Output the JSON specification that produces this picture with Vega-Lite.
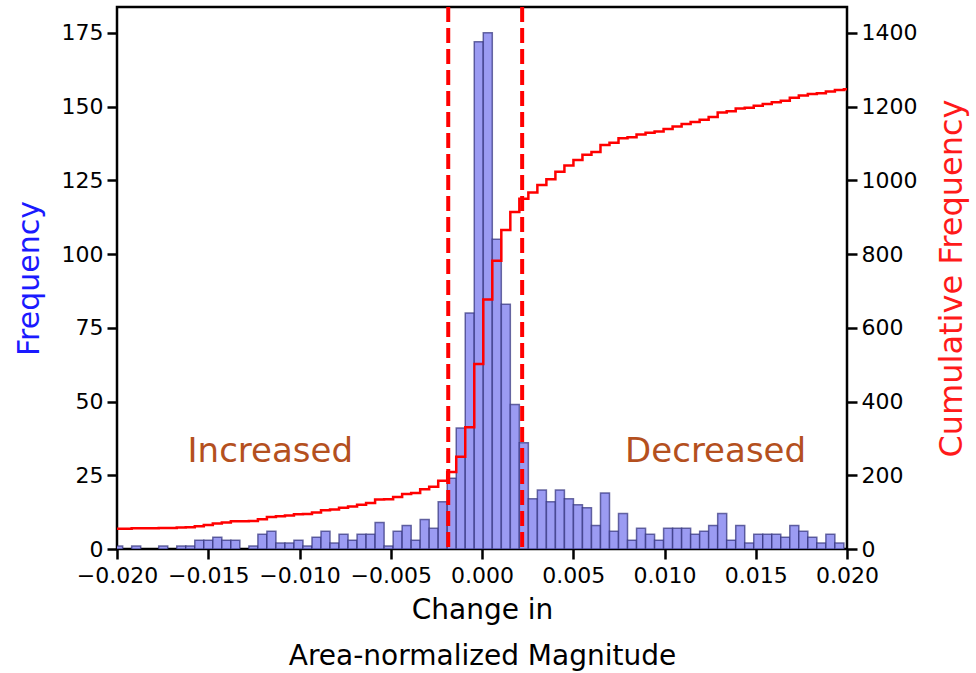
{
  "$schema": "https://vega.github.io/schema/vega-lite/v6.json",
  "width": 730,
  "height": 542,
  "autosize": {"type": "none"},
  "padding": {"left": 117, "top": 7, "right": 129, "bottom": 124},
  "background": "white",
  "config": {
    "view": {"stroke": "black", "strokeWidth": 2.5},
    "axis": {
      "grid": false,
      "domain": false,
      "tickColor": "black",
      "tickWidth": 2.5,
      "tickSize": 10,
      "labelFont": "DejaVu Sans",
      "labelFontSize": 22,
      "labelColor": "black",
      "labelOverlap": false,
      "labelFlush": false,
      "titleFontWeight": "normal"
    }
  },
  "datasets": {
    "hist": [
      {"x": -0.020184, "x2": -0.01969, "count": 1},
      {"x": -0.019196, "x2": -0.018702, "count": 1},
      {"x": -0.017714, "x2": -0.01722, "count": 1},
      {"x": -0.016726, "x2": -0.016232, "count": 1},
      {"x": -0.016232, "x2": -0.015738, "count": 1},
      {"x": -0.015738, "x2": -0.015244, "count": 3},
      {"x": -0.015244, "x2": -0.01475, "count": 3},
      {"x": -0.01475, "x2": -0.014256, "count": 4},
      {"x": -0.014256, "x2": -0.013762, "count": 3},
      {"x": -0.013762, "x2": -0.013268, "count": 3},
      {"x": -0.012774, "x2": -0.01228, "count": 1},
      {"x": -0.01228, "x2": -0.011786, "count": 5},
      {"x": -0.011786, "x2": -0.011292, "count": 6},
      {"x": -0.011292, "x2": -0.010798, "count": 2},
      {"x": -0.010798, "x2": -0.010304, "count": 2},
      {"x": -0.010304, "x2": -0.00981, "count": 3},
      {"x": -0.00981, "x2": -0.009316, "count": 1},
      {"x": -0.009316, "x2": -0.008822, "count": 4},
      {"x": -0.008822, "x2": -0.008328, "count": 6},
      {"x": -0.008328, "x2": -0.007834, "count": 2},
      {"x": -0.007834, "x2": -0.00734, "count": 5},
      {"x": -0.00734, "x2": -0.006846, "count": 3},
      {"x": -0.006846, "x2": -0.006352, "count": 5},
      {"x": -0.006352, "x2": -0.005858, "count": 5},
      {"x": -0.005858, "x2": -0.005364, "count": 9},
      {"x": -0.005364, "x2": -0.00487, "count": 1},
      {"x": -0.00487, "x2": -0.004376, "count": 6},
      {"x": -0.004376, "x2": -0.003882, "count": 8},
      {"x": -0.003882, "x2": -0.003388, "count": 3},
      {"x": -0.003388, "x2": -0.002894, "count": 10},
      {"x": -0.002894, "x2": -0.0024, "count": 7},
      {"x": -0.0024, "x2": -0.001906, "count": 16},
      {"x": -0.001906, "x2": -0.001412, "count": 24},
      {"x": -0.001412, "x2": -0.000918, "count": 41},
      {"x": -0.000918, "x2": -0.000424, "count": 80},
      {"x": -0.000424, "x2": 0.00007, "count": 172},
      {"x": 0.00007, "x2": 0.000564, "count": 175},
      {"x": 0.000564, "x2": 0.001058, "count": 105},
      {"x": 0.001058, "x2": 0.001552, "count": 83},
      {"x": 0.001552, "x2": 0.002046, "count": 49},
      {"x": 0.002046, "x2": 0.00254, "count": 36},
      {"x": 0.00254, "x2": 0.003034, "count": 17},
      {"x": 0.003034, "x2": 0.003528, "count": 20},
      {"x": 0.003528, "x2": 0.004022, "count": 16},
      {"x": 0.004022, "x2": 0.004516, "count": 20},
      {"x": 0.004516, "x2": 0.00501, "count": 17},
      {"x": 0.00501, "x2": 0.005504, "count": 15},
      {"x": 0.005504, "x2": 0.005998, "count": 14},
      {"x": 0.005998, "x2": 0.006492, "count": 8},
      {"x": 0.006492, "x2": 0.006986, "count": 19},
      {"x": 0.006986, "x2": 0.00748, "count": 6},
      {"x": 0.00748, "x2": 0.007974, "count": 12},
      {"x": 0.007974, "x2": 0.008468, "count": 3},
      {"x": 0.008468, "x2": 0.008962, "count": 7},
      {"x": 0.008962, "x2": 0.009456, "count": 5},
      {"x": 0.009456, "x2": 0.00995, "count": 3},
      {"x": 0.00995, "x2": 0.010444, "count": 7},
      {"x": 0.010444, "x2": 0.010938, "count": 7},
      {"x": 0.010938, "x2": 0.011432, "count": 7},
      {"x": 0.011432, "x2": 0.011926, "count": 5},
      {"x": 0.011926, "x2": 0.01242, "count": 6},
      {"x": 0.01242, "x2": 0.012914, "count": 8},
      {"x": 0.012914, "x2": 0.013408, "count": 12},
      {"x": 0.013408, "x2": 0.013902, "count": 3},
      {"x": 0.013902, "x2": 0.014396, "count": 8},
      {"x": 0.014396, "x2": 0.01489, "count": 2},
      {"x": 0.01489, "x2": 0.015384, "count": 5},
      {"x": 0.015384, "x2": 0.015878, "count": 5},
      {"x": 0.015878, "x2": 0.016372, "count": 5},
      {"x": 0.016372, "x2": 0.016866, "count": 4},
      {"x": 0.016866, "x2": 0.01736, "count": 8},
      {"x": 0.01736, "x2": 0.017854, "count": 6},
      {"x": 0.017854, "x2": 0.018348, "count": 4},
      {"x": 0.018348, "x2": 0.018842, "count": 2},
      {"x": 0.018842, "x2": 0.019336, "count": 5},
      {"x": 0.019336, "x2": 0.01983, "count": 2}
    ],
    "cum": [
      {"x": -0.020184, "cum": 55},
      {"x": -0.01969, "cum": 55},
      {"x": -0.019196, "cum": 56},
      {"x": -0.018702, "cum": 56},
      {"x": -0.018208, "cum": 56},
      {"x": -0.017714, "cum": 57},
      {"x": -0.01722, "cum": 57},
      {"x": -0.016726, "cum": 58},
      {"x": -0.016232, "cum": 59},
      {"x": -0.015738, "cum": 62},
      {"x": -0.015244, "cum": 65},
      {"x": -0.01475, "cum": 69},
      {"x": -0.014256, "cum": 72},
      {"x": -0.013762, "cum": 75},
      {"x": -0.013268, "cum": 75},
      {"x": -0.012774, "cum": 76},
      {"x": -0.01228, "cum": 81},
      {"x": -0.011786, "cum": 87},
      {"x": -0.011292, "cum": 89},
      {"x": -0.010798, "cum": 91},
      {"x": -0.010304, "cum": 94},
      {"x": -0.00981, "cum": 95},
      {"x": -0.009316, "cum": 99},
      {"x": -0.008822, "cum": 105},
      {"x": -0.008328, "cum": 107},
      {"x": -0.007834, "cum": 112},
      {"x": -0.00734, "cum": 115},
      {"x": -0.006846, "cum": 120},
      {"x": -0.006352, "cum": 125},
      {"x": -0.005858, "cum": 134},
      {"x": -0.005364, "cum": 135},
      {"x": -0.00487, "cum": 141},
      {"x": -0.004376, "cum": 149},
      {"x": -0.003882, "cum": 152},
      {"x": -0.003388, "cum": 162},
      {"x": -0.002894, "cum": 169},
      {"x": -0.0024, "cum": 185},
      {"x": -0.001906, "cum": 209},
      {"x": -0.001412, "cum": 250},
      {"x": -0.000918, "cum": 330},
      {"x": -0.000424, "cum": 502},
      {"x": 0.00007, "cum": 677},
      {"x": 0.000564, "cum": 782},
      {"x": 0.001058, "cum": 865},
      {"x": 0.001552, "cum": 914},
      {"x": 0.002046, "cum": 950},
      {"x": 0.00254, "cum": 967},
      {"x": 0.003034, "cum": 987},
      {"x": 0.003528, "cum": 1003},
      {"x": 0.004022, "cum": 1023},
      {"x": 0.004516, "cum": 1040},
      {"x": 0.00501, "cum": 1055},
      {"x": 0.005504, "cum": 1069},
      {"x": 0.005998, "cum": 1077},
      {"x": 0.006492, "cum": 1096},
      {"x": 0.006986, "cum": 1102},
      {"x": 0.00748, "cum": 1114},
      {"x": 0.007974, "cum": 1117},
      {"x": 0.008468, "cum": 1124},
      {"x": 0.008962, "cum": 1129},
      {"x": 0.009456, "cum": 1132},
      {"x": 0.00995, "cum": 1139},
      {"x": 0.010444, "cum": 1146},
      {"x": 0.010938, "cum": 1153},
      {"x": 0.011432, "cum": 1158},
      {"x": 0.011926, "cum": 1164},
      {"x": 0.01242, "cum": 1172},
      {"x": 0.012914, "cum": 1184},
      {"x": 0.013408, "cum": 1187},
      {"x": 0.013902, "cum": 1195},
      {"x": 0.014396, "cum": 1197},
      {"x": 0.01489, "cum": 1202},
      {"x": 0.015384, "cum": 1207},
      {"x": 0.015878, "cum": 1212},
      {"x": 0.016372, "cum": 1216},
      {"x": 0.016866, "cum": 1224},
      {"x": 0.01736, "cum": 1230},
      {"x": 0.017854, "cum": 1234},
      {"x": 0.018348, "cum": 1236},
      {"x": 0.018842, "cum": 1241},
      {"x": 0.019336, "cum": 1245},
      {"x": 0.01983, "cum": 1247},
      {"x": 0.020324, "cum": 1247}
    ],
    "cuts": [{"x": -0.00185}, {"x": 0.0022}],
    "labels": [
      {"x": -0.0116, "count": 33, "label": "Increased"},
      {"x": 0.0128, "count": 33, "label": "Decreased"}
    ]
  },
  "layer": [
    {
      "layer": [
        {
          "data": {"name": "hist"},
          "mark": {"type": "bar", "clip": true, "fill": "#9b9bf2", "stroke": "#30307a", "strokeOpacity": 0.7, "strokeWidth": 1.5},
          "encoding": {
            "x": {
              "field": "x", "type": "quantitative",
              "scale": {"domain": [-0.02, 0.02], "nice": false, "zero": false},
              "axis": {
                "values": [-0.02, -0.015, -0.01, -0.005, 0, 0.005, 0.01, 0.015, 0.02],
                "format": ".3f",
                "title": ["Change in", "Area-normalized Magnitude"],
                "titleFont": "DejaVu Sans",
                "titleFontSize": 28,
                "titleColor": "black",
                "titleLineHeight": 46,
                "titlePadding": 10,
                "labelPadding": 6
              }
            },
            "x2": {"field": "x2"},
            "y": {
              "field": "count", "type": "quantitative",
              "scale": {"domain": [0, 183.75], "nice": false},
              "axis": {
                "values": [0, 25, 50, 75, 100, 125, 150, 175],
                "title": "Frequency",
                "titleFont": "DejaVu Sans",
                "titleFontSize": 30,
                "titleColor": "#1a1aff",
                "titlePadding": 17,
                "labelPadding": 4
              }
            },
            "y2": {"datum": 0}
          }
        },
        {
          "data": {"name": "labels"},
          "mark": {"type": "text", "font": "DejaVu Sans", "fontSize": 34, "color": "#b4501e", "baseline": "middle", "align": "center"},
          "encoding": {
            "x": {"field": "x", "type": "quantitative"},
            "y": {"field": "count", "type": "quantitative"},
            "text": {"field": "label"}
          }
        }
      ]
    },
    {
      "data": {"name": "cum"},
      "mark": {"type": "line", "clip": true, "interpolate": "step-after", "color": "#ff0000", "strokeWidth": 2.5},
      "encoding": {
        "x": {"field": "x", "type": "quantitative"},
        "y": {
          "field": "cum", "type": "quantitative",
          "scale": {"domain": [0, 1470], "nice": false},
          "axis": {
            "orient": "right",
            "values": [0, 200, 400, 600, 800, 1000, 1200, 1400],
            "format": "d",
            "title": "Cumulative Frequency",
            "titleFont": "DejaVu Sans",
            "titleFontSize": 32,
            "titleColor": "#ff1a1a",
            "titleAngle": -90,
            "titleBaseline": "top",
            "titlePadding": 20,
            "labelPadding": 4
          }
        }
      }
    },
    {
      "data": {"name": "cuts"},
      "mark": {"type": "rule", "color": "#ff0000", "strokeWidth": 4, "strokeDash": [15, 6]},
      "encoding": {
        "x": {"field": "x", "type": "quantitative"}
      }
    }
  ],
  "resolve": {"scale": {"y": "independent"}}
}
